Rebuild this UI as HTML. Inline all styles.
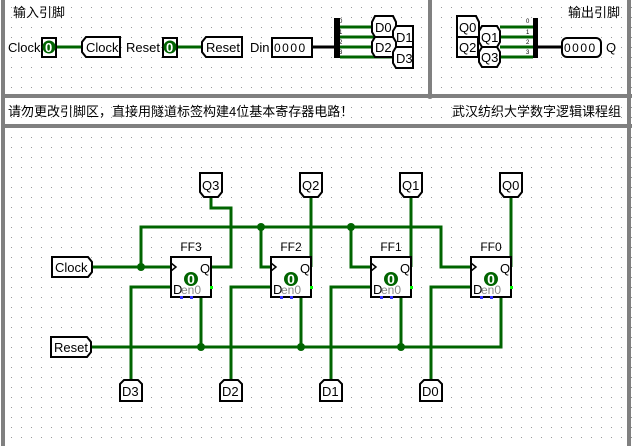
<!DOCTYPE html>
<html><head><meta charset="utf-8"><style>
html,body{margin:0;padding:0;background:#fff;}
svg{display:block;}
text{font-family:"Liberation Sans","WenQuanYi Zen Hei","Noto Sans CJK SC",sans-serif;}
</style></head><body>
<svg width="632" height="446" viewBox="0 0 632 446" xmlns="http://www.w3.org/2000/svg">
<defs>
<pattern id="g" x="0" y="0" width="10" height="10" patternUnits="userSpaceOnUse">
<rect x="1" y="7" width="1" height="1" fill="#999"/>
</pattern>
</defs>
<rect width="632" height="446" fill="#fff"/>
<rect width="632" height="446" fill="url(#g)"/>
<g fill="#808080">
<rect x="1" y="0" width="4" height="97"/>
<rect x="1" y="94" width="631" height="4"/>
<rect x="428" y="0" width="4" height="97"/>
<rect x="627" y="0" width="4" height="446"/>
<rect x="1" y="98" width="4" height="30"/>
<rect x="1" y="124" width="631" height="4"/>
<rect x="1" y="128" width="4" height="318"/>
<circle cx="430" cy="96" r="3"/>
</g>
<g font-size="13" fill="#000">
<text x="13" y="17">输入引脚</text>
<text x="568" y="17">输出引脚</text>
<text x="8" y="116">请勿更改引脚区，直接用隧道标签构建4位基本寄存器电路！</text>
<text x="452" y="116">武汉纺织大学数字逻辑课程组</text>
</g>
<g stroke="#006400" stroke-width="3" fill="none">
<line x1="55" y1="47" x2="82" y2="47"/>
<line x1="178" y1="47" x2="202" y2="47"/>
<line x1="340" y1="27" x2="374" y2="27"/>
<line x1="340" y1="37" x2="394" y2="37"/>
<line x1="340" y1="47" x2="374" y2="47"/>
<line x1="340" y1="57" x2="394" y2="57"/>
<line x1="500" y1="27" x2="533" y2="27"/>
<line x1="500" y1="37" x2="533" y2="37"/>
<line x1="500" y1="47" x2="533" y2="47"/>
<line x1="500" y1="57" x2="533" y2="57"/>
</g>
<g stroke="#000" stroke-width="3">
<line x1="312" y1="47" x2="336" y2="47"/>
<line x1="537" y1="47" x2="562" y2="47"/>
</g>
<rect x="334" y="18" width="6" height="40" fill="#000"/>
<rect x="533" y="18" width="5" height="40" fill="#000"/>
<g font-size="6" fill="#000">
<text x="339" y="23">0</text><text x="339" y="34">1</text><text x="339" y="44">2</text><text x="339" y="54">3</text>
<text x="526" y="23">0</text><text x="526" y="34">1</text><text x="526" y="44">2</text><text x="526" y="54">3</text>
</g>
<g font-size="13" fill="#000">
<text x="8" y="52">Clock</text>
<text x="126" y="52">Reset</text>
<text x="250" y="52">Din</text>
<text x="606" y="52">Q</text>
</g>
<g stroke="#000" stroke-width="2" fill="#fff">
<rect x="42" y="38" width="14" height="19"/>
<rect x="163" y="38" width="14" height="19"/>
<rect x="272" y="38" width="40" height="19"/>
<rect x="562" y="38" width="39" height="19" rx="5"/>
<path d="M86,37 H120 V57 H86 L82,52 V42 Z"/>
<path d="M206,37 H242 V57 H206 L202,52 V42 Z"/>
<path d="M375,16 H393 L396,22 V32 L393,37 H375 L372,32 V22 Z"/>
<path d="M396,26 H413 V47 H396 L393,42 V31 Z"/>
<path d="M375,37 H393 L396,42 V52 L393,57 H375 L372,52 V42 Z"/>
<path d="M396,47 H413 V68 H396 L393,63 V52 Z"/>
<path d="M457,16 H476 L479,22 V37 H457 Z"/>
<path d="M482,26 H497 L500,31 V42 L497,47 H482 L479,42 V31 Z"/>
<path d="M457,37 H478 V57 H457 Z"/>
<path d="M482,47 H497 L500,52 V62 L497,67 H482 L479,62 V52 Z"/>
</g>
<g fill="#006400"><circle cx="49" cy="47" r="6.5"/><circle cx="170" cy="47" r="6.5"/></g>
<g font-size="13" fill="#fff" font-weight="bold"><text x="45" y="52">0</text><text x="166" y="52">0</text></g>
<g font-size="13" fill="#000">
<text x="86" y="52">Clock</text>
<text x="206" y="52">Reset</text>
<text x="274" y="52" font-size="12" letter-spacing="1.5">0000</text>
<text x="564" y="52" font-size="12" letter-spacing="1.5">0000</text>
<text x="375" y="32">D0</text>
<text x="396" y="42">D1</text>
<text x="375" y="52">D2</text>
<text x="396" y="63">D3</text>
<text x="459" y="32">Q0</text>
<text x="481" y="42">Q1</text>
<text x="459" y="52">Q2</text>
<text x="481" y="62">Q3</text>
</g>

<g stroke="#006400" stroke-width="3" fill="none">
<line x1="92" y1="267" x2="171" y2="267"/>
<path d="M141,267 V227 H441 V267 H471"/>
<path d="M261,227 V267 H271"/>
<path d="M351,227 V267 H371"/>
<path d="M211,197 V208 H231 V267 H211"/>
<line x1="311" y1="197" x2="311" y2="267"/>
<line x1="411" y1="197" x2="411" y2="267"/>
<line x1="511" y1="197" x2="511" y2="267"/>
<path d="M171,287 H131 V380"/>
<path d="M271,287 H231 V380"/>
<path d="M371,287 H331 V380"/>
<path d="M471,287 H431 V380"/>
<path d="M92,347 H501 V297"/>
<line x1="201" y1="297" x2="201" y2="347"/>
<line x1="301" y1="297" x2="301" y2="347"/>
<line x1="401" y1="297" x2="401" y2="347"/>
</g>
<g fill="#006400">
<circle cx="141" cy="267" r="4"/><circle cx="261" cy="227" r="4"/><circle cx="351" cy="227" r="4"/>
<circle cx="201" cy="347" r="4"/><circle cx="301" cy="347" r="4"/><circle cx="401" cy="347" r="4"/>
</g>
<g stroke="#000" stroke-width="2" fill="#fff">
<path d="M200,173 H222 V192 L218,197 H204 L200,192 Z"/>
<path d="M300,173 H322 V192 L318,197 H304 L300,192 Z"/>
<path d="M400,173 H422 V192 L418,197 H404 L400,192 Z"/>
<path d="M500,173 H522 V192 L518,197 H504 L500,192 Z"/>
<path d="M124,380 H138 L142,384 V401 H120 V384 Z"/>
<path d="M224,380 H238 L242,384 V401 H220 V384 Z"/>
<path d="M324,380 H338 L342,384 V401 H320 V384 Z"/>
<path d="M424,380 H438 L442,384 V401 H420 V384 Z"/>
<path d="M52,257 H88 L92,262 V272 L88,277 H52 Z"/>
<path d="M51,337 H87 L91,342 V352 L87,357 H51 Z"/>
</g>
<g font-size="13" fill="#000">
<text x="202" y="190">Q3</text><text x="302" y="190">Q2</text><text x="402" y="190">Q1</text><text x="502" y="190">Q0</text>
<text x="122" y="396">D3</text><text x="222" y="396">D2</text><text x="322" y="396">D1</text><text x="422" y="396">D0</text>
<text x="55" y="272">Clock</text>
<text x="54" y="352">Reset</text>
</g>
<g>
<g transform="translate(171,257)">
<rect x="0" y="0" width="40" height="40" fill="#fff" stroke="#000" stroke-width="2"/>
<path d="M0,6 L5,10 L0,14" fill="none" stroke="#000" stroke-width="1.5"/>
<text x="20" y="-6" font-size="12" text-anchor="middle">FF3</text>
<text x="29" y="16" font-size="13">Q</text>
<circle cx="20" cy="22" r="7" fill="#006400"/><text x="20" y="27" font-size="14" fill="#fff" text-anchor="middle" font-weight="bold">0</text>
<text x="2" y="37" font-size="13" font-family="Liberation Serif">D</text>
<text x="10" y="37" font-size="12" fill="#888">en0</text>
<rect x="39" y="29" width="3" height="3" fill="#0f0"/>
<rect x="9" y="39" width="3" height="3" fill="#33f"/><rect x="19" y="39" width="3" height="3" fill="#33f"/>
</g>
<g transform="translate(271,257)">
<rect x="0" y="0" width="40" height="40" fill="#fff" stroke="#000" stroke-width="2"/>
<path d="M0,6 L5,10 L0,14" fill="none" stroke="#000" stroke-width="1.5"/>
<text x="20" y="-6" font-size="12" text-anchor="middle">FF2</text>
<text x="29" y="16" font-size="13">Q</text>
<circle cx="20" cy="22" r="7" fill="#006400"/><text x="20" y="27" font-size="14" fill="#fff" text-anchor="middle" font-weight="bold">0</text>
<text x="2" y="37" font-size="13" font-family="Liberation Serif">D</text>
<text x="10" y="37" font-size="12" fill="#888">en0</text>
<rect x="39" y="29" width="3" height="3" fill="#0f0"/>
<rect x="9" y="39" width="3" height="3" fill="#33f"/><rect x="19" y="39" width="3" height="3" fill="#33f"/>
</g>
<g transform="translate(371,257)">
<rect x="0" y="0" width="40" height="40" fill="#fff" stroke="#000" stroke-width="2"/>
<path d="M0,6 L5,10 L0,14" fill="none" stroke="#000" stroke-width="1.5"/>
<text x="20" y="-6" font-size="12" text-anchor="middle">FF1</text>
<text x="29" y="16" font-size="13">Q</text>
<circle cx="20" cy="22" r="7" fill="#006400"/><text x="20" y="27" font-size="14" fill="#fff" text-anchor="middle" font-weight="bold">0</text>
<text x="2" y="37" font-size="13" font-family="Liberation Serif">D</text>
<text x="10" y="37" font-size="12" fill="#888">en0</text>
<rect x="39" y="29" width="3" height="3" fill="#0f0"/>
<rect x="9" y="39" width="3" height="3" fill="#33f"/><rect x="19" y="39" width="3" height="3" fill="#33f"/>
</g>
<g transform="translate(471,257)">
<rect x="0" y="0" width="40" height="40" fill="#fff" stroke="#000" stroke-width="2"/>
<path d="M0,6 L5,10 L0,14" fill="none" stroke="#000" stroke-width="1.5"/>
<text x="20" y="-6" font-size="12" text-anchor="middle">FF0</text>
<text x="29" y="16" font-size="13">Q</text>
<circle cx="20" cy="22" r="7" fill="#006400"/><text x="20" y="27" font-size="14" fill="#fff" text-anchor="middle" font-weight="bold">0</text>
<text x="2" y="37" font-size="13" font-family="Liberation Serif">D</text>
<text x="10" y="37" font-size="12" fill="#888">en0</text>
<rect x="39" y="29" width="3" height="3" fill="#0f0"/>
<rect x="9" y="39" width="3" height="3" fill="#33f"/><rect x="19" y="39" width="3" height="3" fill="#33f"/>
</g>
</g>
</svg>
</body></html>
